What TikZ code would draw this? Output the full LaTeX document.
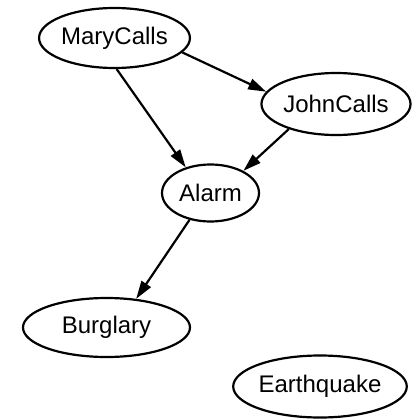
\documentclass[tikz,border=0pt]{standalone}
\usepackage{fontspec}
\setmainfont{Liberation Sans}
\usetikzlibrary{shapes.geometric,arrows.meta}
\begin{document}
\begin{tikzpicture}[x=1pt,y=-1pt,
  bnode/.style={draw,ellipse,line width=2.2pt,inner sep=0pt,font=\fontsize{24}{28}\selectfont},
  edge/.style={line width=2.2pt,-{Triangle[length=18pt,width=11pt]}}]
\useasboundingbox (0,0) rectangle (415,420);
\node[bnode,minimum width=149pt,minimum height=60pt] (mary) at (114.5,38) {MaryCalls};
\node[bnode,minimum width=136pt,minimum height=62pt] (john) at (336,104) {JohnCalls};
\node[bnode,minimum width=97pt,minimum height=57pt] (alarm) at (210.5,193) {Alarm};
\node[bnode,minimum width=167pt,minimum height=59pt] (burg) at (106.5,327.5) {Burglary};
\node[bnode,minimum width=166pt,minimum height=62pt] (earth) at (320,386.5) {Earthquake};
\draw[edge] (mary.-12.5) -- (john.170);
\draw[edge] (mary.-86) -- (alarm.134);
\draw[edge] (john.208) -- (alarm.34.5);
\draw[edge] (alarm.232) -- (burg.44);
\end{tikzpicture}
\end{document}
